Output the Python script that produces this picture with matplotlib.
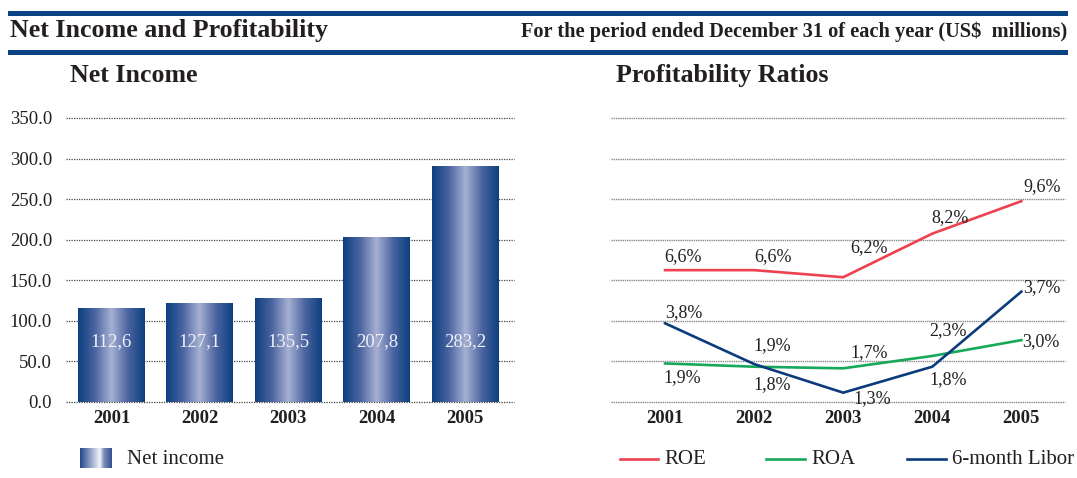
import matplotlib
matplotlib.use('Agg')
import matplotlib.pyplot as plt
import numpy as np
from matplotlib.colors import LinearSegmentedColormap
from matplotlib.lines import Line2D
from matplotlib.patches import Rectangle

plt.rcParams['font.family'] = ['Liberation Serif', 'DejaVu Serif']

# data
years = ['2001', '2002', '2003', '2004', '2005']
net_income = [116, 122, 128, 203, 291]          # bar heights as drawn
net_income_labels = ['112,6', '127,1', '135,5', '207,8', '283,2']

roe = [6.5, 6.5, 6.15, 8.3, 9.9]
roa = [1.9, 1.74, 1.66, 2.27, 3.05]
libor = [3.88, 1.87, 0.46, 1.74, 5.44]

# value labels on the ratio chart: (text, x index, y, dx in px)
ratio_labels = [
    ('6,6%', 0, 7.15, -1), ('6,6%', 1, 7.15, 0), ('6,2%', 2, 7.6, 7),
    ('8,2%', 3, 9.1, -1), ('9,6%', 4, 10.6, 2), ('3,7%', 4, 5.65, 2),
    ('3,8%', 0, 4.4, 0), ('1,9%', 1, 2.8, -1), ('1,7%', 2, 2.42, 7),
    ('2,3%', 3, 3.5, -3), ('3,0%', 4, 2.96, 1), ('1,9%', 0, 1.18, -2),
    ('1,8%', 1, 0.84, -1), ('1,3%', 2, 0.15, 10), ('1,8%', 3, 1.08, -3),
]

W, H = 1077, 478
navy = '#0b4384'
c_roe = '#ee4150'
c_roa = '#17a85a'
c_libor = '#0c3b7c'
text_c = '#231f20'

fig = plt.figure(figsize=(W / 100, H / 100), dpi=100)

def fx(px):
    return px / W

def fy(py):
    return 1 - py / H

# header bands and titles
for yc in (13.5, 52):
    fig.add_artist(Rectangle((fx(8), fy(yc + 2.5)), fx(1068) - fx(8), 5 / H,
                             transform=fig.transFigure, color=navy, lw=0))
fig.text(fx(10), fy(37), 'Net Income and Profitability', fontsize=18.7,
         fontweight='bold', color=text_c, va='baseline')
fig.text(fx(1067), fy(37), 'For the period ended December 31 of each year (US$  millions)',
         fontsize=14.7, fontweight='bold', color=text_c, va='baseline', ha='right')
fig.text(fx(70), fy(82), 'Net Income', fontsize=18.6, fontweight='bold',
         color=text_c, va='baseline')
fig.text(fx(616), fy(82), 'Profitability Ratios', fontsize=18.7, fontweight='bold',
         color=text_c, va='baseline')

bar_cmap = LinearSegmentedColormap.from_list(
    'bar', ['#0d3f80', '#4a64a0', '#a6b0d2', '#4a64a0', '#0d3f80'])

# left: net income bars
ax1 = fig.add_axes([fx(66), fy(402), fx(514) - fx(66), (402 - 118) / H])
x = np.arange(len(years))
bars = ax1.bar(x, net_income, width=0.757, color='none', zorder=2)
grad = np.linspace(0, 1, 256).reshape(1, -1)
for b in bars:
    x0, w, h = b.get_x(), b.get_width(), b.get_height()
    im = ax1.imshow(grad, cmap=bar_cmap, aspect='auto', extent=[x0, x0 + w, 0, h],
                    zorder=2)
    im.set_clip_path(b)
for i, lab in enumerate(net_income_labels):
    ax1.text(i, 74, lab, ha='center', va='center', color='#eef0f7', fontsize=13.5,
             zorder=3)
ax1.set_xlim(-0.514, 4.55)
ax1.set_ylim(0, 350)
ax1.set_yticks(np.arange(0, 351, 50))
ax1.set_yticklabels(['%.1f' % v for v in np.arange(0, 351, 50)])
ax1.set_xticks(x)
ax1.set_xticklabels(years, fontweight='bold')
ax1.yaxis.grid(True, linestyle=(0, (1, 1)), color='#444444', lw=0.9)
ax1.set_axisbelow(True)

# right: profitability ratios
ax2 = fig.add_axes([fx(611), fy(402), fx(1065) - fx(611), (402 - 118) / H])
ax2.plot(x, roe, color=c_roe, lw=1.9, solid_joinstyle='miter')
ax2.plot(x, roa, color=c_roa, lw=1.9, solid_joinstyle='miter')
ax2.plot(x, libor, color=c_libor, lw=1.9, solid_joinstyle='miter')
for txt, xi, yv, dx in ratio_labels:
    ax2.annotate(txt, (xi, yv), xytext=(dx * 0.72, 0), textcoords='offset points',
                 ha='left', va='center', fontsize=13, color=text_c)
ax2.set_xlim(-0.607, 4.49)
ax2.set_ylim(0, 14)
ax2.set_yticks(np.arange(0, 15, 2))
ax2.set_yticklabels([])
ax2.set_xticks(x)
ax2.set_xticklabels(years, fontweight='bold')
ax2.yaxis.grid(True, linestyle=(0, (1, 0.6)), color='#8a8a8a', lw=1.0)
ax2.set_axisbelow(True)

for ax in (ax1, ax2):
    for s in ax.spines.values():
        s.set_visible(False)
    ax.tick_params(length=0, labelsize=13.5, colors=text_c)
    ax.tick_params(axis='x', pad=6)
    ax.tick_params(axis='y', pad=10)
    for gl in ax.yaxis.get_gridlines():
        gl.set_clip_on(False)

# legends
leg_cmap = LinearSegmentedColormap.from_list(
    'leg', [(0, '#24488a'), (0.45, '#b8c2de'), (0.62, '#f4f6fb'), (0.75, '#7d8cbc'),
            (1, '#2f4f90')])
lax = fig.add_axes([fx(80), fy(468), (111 - 80) / W, 20 / H])
lax.imshow(grad, cmap=leg_cmap, aspect='auto')
lax.axis('off')
fig.text(fx(127), fy(459), 'Net income', fontsize=15, color=text_c, va='center')

for x0, x1, col, lab in [(620, 658, c_roe, 'ROE'), (766, 805, c_roa, 'ROA'),
                         (907, 946, c_libor, '6-month Libor')]:
    fig.add_artist(Line2D([fx(x0), fx(x1)], [fy(459), fy(459)], color=col, lw=1.9,
                          transform=fig.transFigure))
    fig.text(fx(x1 + 6), fy(460), lab, fontsize=15, color=text_c, va='center')

fig.savefig('out.png', dpi=100)
